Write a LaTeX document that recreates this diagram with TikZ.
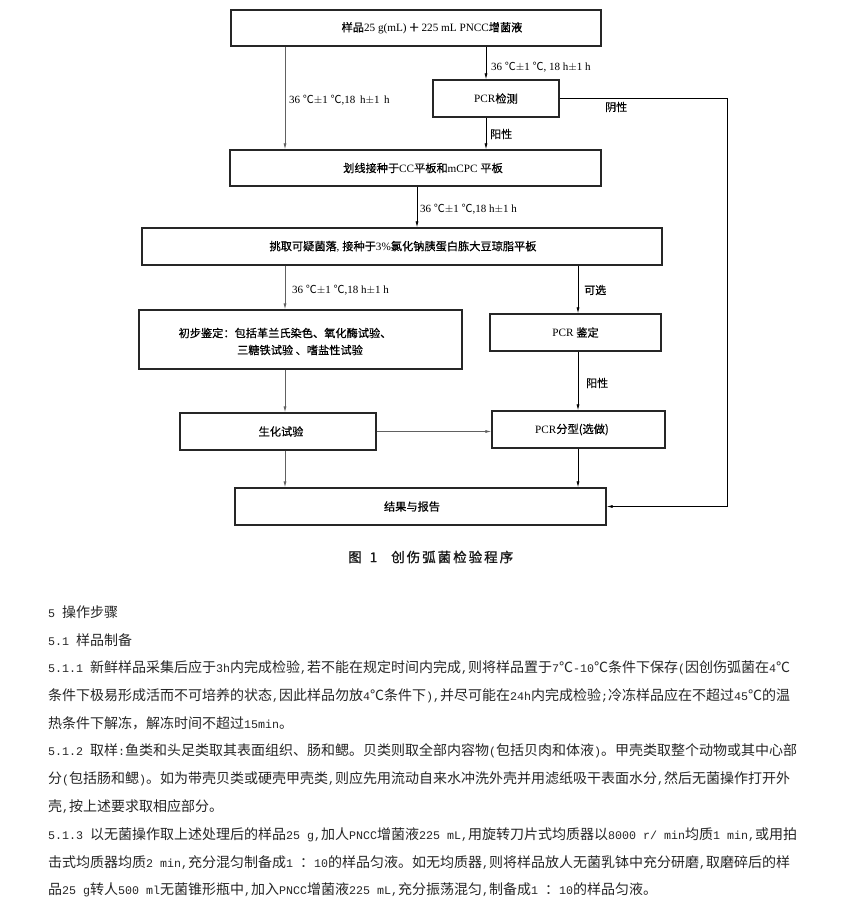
\documentclass[tikz,border=0pt]{standalone}
\usepackage{fontspec}
\setmainfont{Liberation Serif}
\newfontfamily\cjkfont{Noto Sans CJK SC}
\newfontfamily\cjkbold[FakeBold=0.5]{Noto Sans CJK SC}
\newfontfamily\capfont[FakeBold=1.2]{Noto Sans CJK SC}
\newfontfamily\monofont[Scale=0.8333]{Liberation Mono}
\newcommand\zhc[1]{{\cjkbold #1}}
\newcommand\mlat[1]{{\monofont #1}}
\newcommand\degc{{\cjkfont ℃}}
\usetikzlibrary{arrows.meta}
\tikzset{
  fbox/.style={draw=black!85, line width=1.3pt, inner sep=0pt},
  ftext/.style={font=\fontsize{11.2}{13}\selectfont, inner sep=0pt, align=center},
  lab/.style={font=\fontsize{11}{13}\selectfont, inner sep=0pt, anchor=west},
  arr/.style={draw=black, line width=0.7pt, -{Latex[length=6pt,width=3pt]}},
  garr/.style={draw=black!62, line width=0.8pt, -{Latex[length=6pt,width=3pt]}},
  body/.style={font=\fontsize{14}{16}\selectfont\cjkfont, text=black!85, inner sep=0pt, anchor=west}
}
\begin{document}
\begin{tikzpicture}[x=1pt,y=-1pt]
\useasboundingbox[fill=white] (0,0) rectangle (845,909);
% columns
\coordinate (colL) at (285,0);
\coordinate (colM) at (486,0);
\coordinate (colC) at (417,0);
\coordinate (colR) at (578,0);
\coordinate (colF) at (727,0);
% boxes
\node[fbox, minimum width=370pt, minimum height=36pt] (top) at (416,28) {};
\node[fbox, minimum width=126pt, minimum height=37pt] (pcr1) at (496,98.5) {};
\node[fbox, minimum width=371pt, minimum height=36pt] (box2) at (415.5,168) {};
\node[fbox, minimum width=520pt, minimum height=37pt] (box3) at (402,246.5) {};
\node[fbox, minimum width=323pt, minimum height=59pt] (init) at (300.5,339.5) {};
\node[fbox, minimum width=171pt, minimum height=37pt] (pcr2) at (575.5,332.5) {};
\node[fbox, minimum width=196pt, minimum height=37pt] (bio) at (278,431.5) {};
\node[fbox, minimum width=173pt, minimum height=37pt] (pcr3) at (578.5,429.5) {};
\node[fbox, minimum width=371pt, minimum height=37pt] (result) at (420.5,506.5) {};
% box texts
\node[ftext] (ttop) at (432,28) {\zhc{样品}25 g(mL)\,\zhc{＋}\,225 mL PNCC\zhc{增菌液}};
\node[ftext] (tpcr1) at (496,98.5) {PCR\zhc{检测}};
\node[ftext] (tbox2) at (423,168) {\zhc{划线接种于}CC\zhc{平板和}mCPC \zhc{平板}};
\node[ftext] (tbox3) at (403,246.5) {\zhc{挑取可疑菌落}, \zhc{接种于}3\%\zhc{氯化钠胰蛋白胨大豆琼脂平板}};
\node[ftext] (tinit1) at (285,333) {\zhc{初步鉴定：包括革兰氏染色、氧化酶试验、}};
\node[ftext] (tinit2) at (300,350) {\zhc{三糖铁试验 、嗜盐性试验}};
\node[ftext] (tpcr2) at (575.5,332.5) {PCR \zhc{鉴定}};
\node[ftext] (tbio) at (281,431.5) {\zhc{生化试验}};
\node[ftext] (tpcr3) at (572,429.5) {PCR\zhc{分型(选做)}};
\node[ftext] (tres) at (412,506.5) {\zhc{结果与报告}};
% connectors
\draw[garr] (top.south -| colL) -- (box2.north -| colL);
\draw[arr] (top.south -| colM) -- (pcr1.north -| colM);
\draw[arr] (pcr1.south -| colM) -- (box2.north -| colM);
\draw[arr] (pcr1.east) -- (pcr1.east -| colF) |- (result.east);
\draw[arr] (box2.south -| colC) -- (box3.north -| colC);
\draw[garr] (box3.south -| colL) -- (init.north -| colL);
\draw[arr] (box3.south -| colR) -- (pcr2.north -| colR);
\draw[garr] (init.south -| colL) -- (bio.north -| colL);
\draw[arr] (pcr2.south -| colR) -- (pcr3.north -| colR);
\draw[garr] (bio.east) -- (pcr3.west |- bio.east);
\draw[garr] (bio.south -| colL) -- (result.north -| colL);
\draw[arr] (pcr3.south -| colR) -- (result.north -| colR);
% connector labels
\node[lab] (l1) at (491,67) {36 \degc$\pm$1 \degc, 18 h$\pm$1 h};
\node[lab] (l2) at (289,100) {36 \degc$\pm$1 \degc,18\, h$\pm$1\, h};
\node[lab] (l3) at (490,134) {\zhc{阳性}};
\node[lab] (l4) at (605,107) {\zhc{阴性}};
\node[lab] (l5) at (420,209) {36 \degc$\pm$1 \degc,18 h$\pm$1 h};
\node[lab] (l6) at (292,290) {36 \degc$\pm$1 \degc,18 h$\pm$1 h};
\node[lab] (l7) at (584,290) {\zhc{可选}};
\node[lab] (l8) at (586,383) {\zhc{阳性}};
% caption
\node[font=\fontsize{13.5}{15}\selectfont\capfont, text=black!90, inner sep=0pt, anchor=west] (cap) at (348,557)
  {图\hspace{8pt}1\hspace{14pt}创\hspace{2pt}伤\hspace{2pt}弧\hspace{2pt}菌\hspace{2pt}检\hspace{2pt}验\hspace{2pt}程\hspace{2pt}序};
% body text
\node[body] (b1) at (48,612) {\mlat{5 }操作步骤};
\node[body] (b2) at (48,639.8) {\mlat{5.1 }样品制备};
\node[body] (b3) at (48,667.6) {\mlat{5.1.1 }新鲜样品采集后应于\mlat{3h}内完成检验\mlat{,}若不能在规定时间内完成\mlat{,}则将样品置于\mlat{7}℃\mlat{-10}℃条件下保存\mlat{(}因创伤弧菌在\mlat{4}℃};
\node[body] (b4) at (48,695.4) {条件下极易形成活而不可培养的状态\mlat{,}因此样品勿放\mlat{4}℃条件下\mlat{),}并尽可能在\mlat{24h}内完成检验\mlat{;}冷冻样品应在不超过\mlat{45}℃的温};
\node[body] (b5) at (48,723.2) {热条件下解冻，解冻时间不超过\mlat{15min}。};
\node[body] (b6) at (48,751) {\mlat{5.1.2 }取样\mlat{:}鱼类和头足类取其表面组织、肠和鳃。贝类则取全部内容物\mlat{(}包括贝肉和体液\mlat{)}。甲壳类取整个动物或其中心部};
\node[body] (b7) at (48,778.8) {分\mlat{(}包括肠和鳃\mlat{)}。如为带壳贝类或硬壳甲壳类\mlat{,}则应先用流动自来水冲洗外壳并用滤纸吸干表面水分\mlat{,}然后无菌操作打开外};
\node[body] (b8) at (48,806.6) {壳\mlat{,}按上述要求取相应部分。};
\node[body] (b9) at (48,834.4) {\mlat{5.1.3 }以无菌操作取上述处理后的样品\mlat{25 g,}加人\mlat{PNCC}增菌液\mlat{225 mL,}用旋转刀片式均质器以\mlat{8000 r/ min}均质\mlat{1 min,}或用拍};
\node[body] (b10) at (48,862.2) {击式均质器均质\mlat{2 min,}充分混匀制备成\mlat{1 }：\mlat{10}的样品匀液。如无均质器\mlat{,}则将样品放人无菌乳钵中充分研磨\mlat{,}取磨碎后的样};
\node[body] (b11) at (48,890) {品\mlat{25 g}转人\mlat{500 ml}无菌锥形瓶中\mlat{,}加入\mlat{PNCC}增菌液\mlat{225 mL,}充分振荡混匀\mlat{,}制备成\mlat{1 }：\mlat{10}的样品匀液。};
\end{tikzpicture}
\end{document}
